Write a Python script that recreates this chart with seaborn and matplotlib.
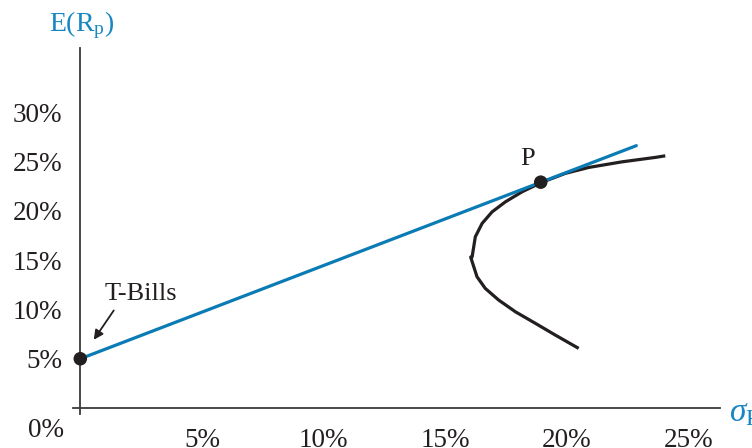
import numpy as np
import pandas as pd
import matplotlib
matplotlib.use("Agg")
import matplotlib.pyplot as plt
import seaborn as sns

# ── Data (in %) ──
cml_sd = [0.0, 22.86]
cml_ret = [5.0, 26.6]

frontier_sd = [24.05, 23.64, 22.27, 20.90, 19.94, 18.96, 18.16, 17.48, 16.93,
               16.52, 16.24, 16.11, 16.05, 16.11, 16.31, 16.65, 17.20, 17.89,
               18.71, 19.53, 20.49]
frontier_ret = [25.57, 25.41, 24.96, 24.39, 23.79, 22.87, 21.92, 20.91, 19.89,
                18.72, 17.36, 16.01, 15.30, 14.67, 13.31, 12.13, 10.95, 9.76,
                8.59, 7.40, 6.05]

points_sd = [0.0, 18.93]
points_ret = [5.0, 22.9]
point_names = ["T-Bills", "P"]

xticks = [5, 10, 15, 20, 25]
yticks = [5, 10, 15, 20, 25, 30]

BLUE = "#0a7bb5"
LABEL_BLUE = "#1786c2"
INK = "#231f20"

sns.set_style("white")
plt.rcParams["font.family"] = ["Liberation Serif", "DejaVu Serif"]
plt.rcParams["mathtext.fontset"] = "custom"
plt.rcParams["mathtext.rm"] = "Liberation Serif"
plt.rcParams["mathtext.it"] = "Liberation Serif:italic"

fig = plt.figure(figsize=(7.52, 4.48), dpi=100)
ax = fig.add_axes([73 / 752, 34 / 448, 647 / 752, 366 / 448])

cml = pd.DataFrame({"sd": cml_sd, "ret": cml_ret})
front = pd.DataFrame({"sd": frontier_sd, "ret": frontier_ret})
pts = pd.DataFrame({"sd": points_sd, "ret": points_ret, "name": point_names})

sns.lineplot(data=front, x="sd", y="ret", sort=False, color=INK, lw=2.3,
             solid_joinstyle="round", solid_capstyle="butt", ax=ax)
sns.lineplot(data=cml, x="sd", y="ret", sort=False, color=BLUE, lw=2.3, ax=ax)
sns.scatterplot(data=pts, x="sd", y="ret", color=INK, s=95, edgecolor="none",
                zorder=5, clip_on=False, ax=ax)

ax.set_xlim(-0.3, 26.3)
ax.set_ylim(-0.6, 36.5)
ax.spines["left"].set_position(("data", 0))
ax.spines["bottom"].set_position(("data", 0))
for s in ["top", "right"]:
    ax.spines[s].set_visible(False)
for s in ["left", "bottom"]:
    ax.spines[s].set_color("#3a3a3a")
    ax.spines[s].set_linewidth(1.3)

ax.set_xticks(xticks)
ax.set_xticklabels([f"{t}%" for t in xticks])
ax.set_yticks(yticks)
ax.set_yticklabels([f"{t}%" for t in yticks])
ax.tick_params(axis="x", direction="out", length=6, width=1.2, pad=8,
               labelsize=19.5, colors="#3a3a3a", labelcolor=INK)
ax.tick_params(axis="y", direction="out", length=6, width=1.2, pad=7,
               labelsize=19.5, colors="#3a3a3a", labelcolor=INK)
ax.set_xlabel("")
ax.set_ylabel("")

ax.text(-1.4, -2.3, "0%", fontsize=19.5, color=INK, ha="center", va="center")

# annotations
ax.annotate("", xy=(0.49, 6.69), xytext=(1.44, 10.13),
            arrowprops=dict(arrowstyle="-|>", color=INK, lw=1.3,
                            mutation_scale=14))
ax.text(2.47, 11.6, point_names[0], fontsize=19, color=INK,
        ha="center", va="center")
ax.text(18.4, 25.2, point_names[1], fontsize=19, color=INK,
        ha="center", va="center")

# axis titles
fig.text(82 / 752, 1 - 25 / 448, r"E(R$_\mathrm{p}$)", fontsize=20,
         color=LABEL_BLUE, ha="center", va="center")
fig.text(729 / 752, 1 - 413 / 448, r"$\sigma_\mathrm{P}$", fontsize=24,
         color=LABEL_BLUE, ha="left", va="center")

fig.savefig("out.png", dpi=100)
